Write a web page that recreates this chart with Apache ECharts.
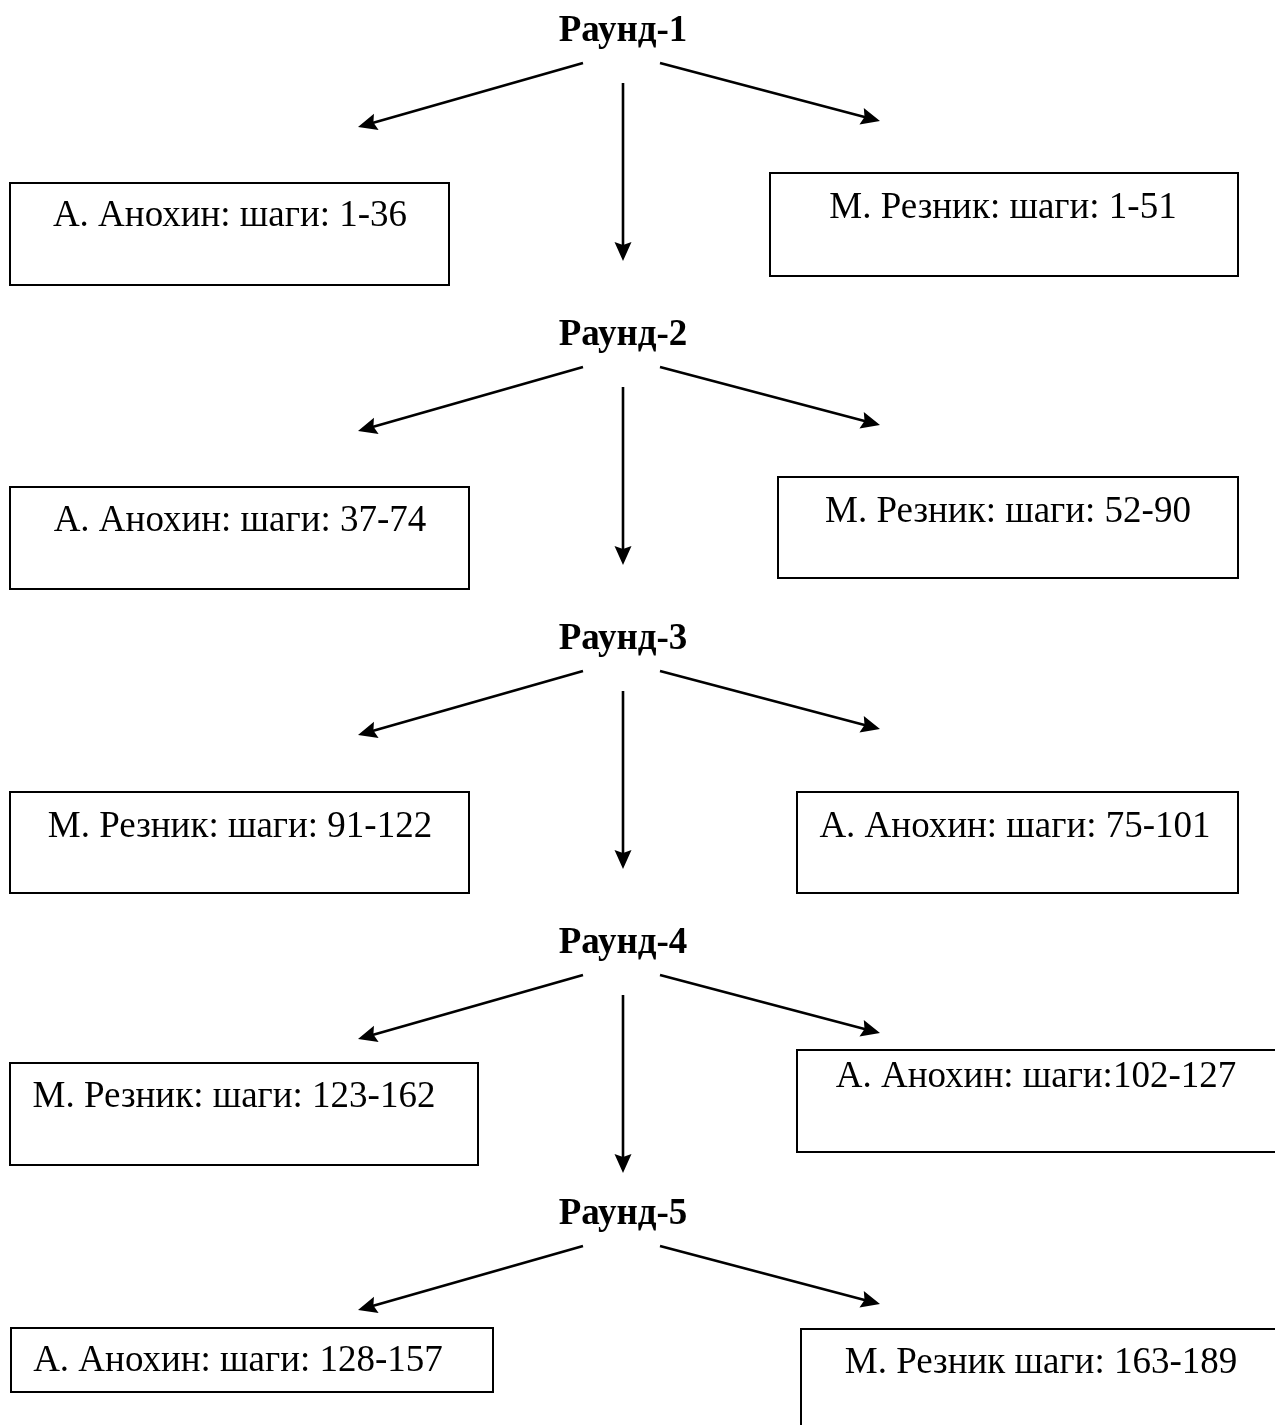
<!DOCTYPE html>
<html>
<head>
<meta charset="utf-8">
<script src="https://cdn.jsdelivr.net/npm/echarts@6/dist/echarts.min.js"></script>
<style>
html,body{margin:0;padding:0;background:#fff;}
#chart{width:1275px;height:1425px;}
</style>
</head>
<body>
<div id="chart"></div>
<script>
// ---- content ----
const rounds = ['Раунд-1', 'Раунд-2', 'Раунд-3', 'Раунд-4', 'Раунд-5'];
const leftLabels = [
  'А. Анохин: шаги: 1-36',
  'А. Анохин: шаги: 37-74',
  'М. Резник: шаги: 91-122',
  'М. Резник: шаги: 123-162',
  'А. Анохин: шаги: 128-157'
];
const rightLabels = [
  'М. Резник: шаги: 1-51',
  'М. Резник: шаги: 52-90',
  'А. Анохин: шаги: 75-101',
  'А. Анохин: шаги:102-127',
  'М. Резник шаги: 163-189'
];
const hasDownArrow = [true, true, true, true, false];

// ---- layout (page pixels) ----
const W = 1275, H = 1425;
const titleY = [31, 335, 639, 943, 1214];
const leftBoxes = [[10,183,449,285],[10,487,469,589],[10,792,469,893],[10,1063,478,1165],[11,1328,493,1392]];
const rightBoxes = [[770,173,1238,276],[778,477,1238,578],[797,792,1238,893],[797,1050,1290,1152],[801,1329,1290,1440]];
const leftText = [[230,216],[240,521],[240,827],[234,1097],[238,1361]];
const rightText = [[1003,208],[1008,512],[1015,827],[1036,1077],[1041,1363]];
const centerX = 623;

// ---- build data ----
const boxData = [];
rounds.forEach((r, i) => {
  boxData.push([...leftBoxes[i], ...leftText[i], leftLabels[i]]);
  boxData.push([...rightBoxes[i], ...rightText[i], rightLabels[i]]);
});
const titleData = rounds.map((r, i) => [centerX, titleY[i], r]);
const arrowData = [];
rounds.forEach((r, i) => {
  const T = titleY[i];
  arrowData.push([583, T + 32, 358, T + 96]);
  arrowData.push([660, T + 32, 880, T + 90]);
  if (hasDownArrow[i]) arrowData.push([centerX, T + 52, centerX, T + 230]);
});

const FONT = '"Liberation Serif", "Times New Roman", serif';

const chart = echarts.init(document.getElementById('chart'), null, {renderer: 'canvas'});
chart.setOption({
  animation: false,
  backgroundColor: '#ffffff',
  grid: {left: 0, right: 0, top: 0, bottom: 0},
  xAxis: {type: 'value', min: 0, max: W, show: false},
  yAxis: {type: 'value', min: 0, max: H, inverse: true, show: false},
  series: [
    {
      type: 'custom',
      coordinateSystem: 'cartesian2d',
      data: boxData,
      clip: false,
      encode: {x: [0, 2], y: [1, 3]},
      renderItem: function (params, api) {
        const p0 = api.coord([api.value(0), api.value(1)]);
        const p1 = api.coord([api.value(2), api.value(3)]);
        const t = api.coord([api.value(4), api.value(5)]);
        return {
          type: 'group',
          children: [
            {type: 'rect', shape: {x: p0[0], y: p0[1], width: p1[0] - p0[0], height: p1[1] - p0[1]},
             style: {fill: '#fff', stroke: '#000', lineWidth: 2}},
            {type: 'text', style: {text: boxData[params.dataIndex][6], x: t[0], y: t[1],
             align: 'center', verticalAlign: 'middle', fill: '#000', fontSize: 37, fontFamily: FONT}}
          ]
        };
      }
    },
    {
      type: 'custom',
      coordinateSystem: 'cartesian2d',
      data: arrowData,
      clip: false,
      encode: {x: [0, 2], y: [1, 3]},
      renderItem: function (params, api) {
        const a = api.coord([api.value(0), api.value(1)]);
        const b = api.coord([api.value(2), api.value(3)]);
        const dx = b[0] - a[0], dy = b[1] - a[1];
        const len = Math.sqrt(dx * dx + dy * dy);
        const ux = dx / len, uy = dy / len;
        const headL = 19, headW = 8.5;
        const bx = b[0] - ux * headL, by = b[1] - uy * headL;
        return {
          type: 'group',
          children: [
            {type: 'line', shape: {x1: a[0], y1: a[1], x2: bx + ux * 4, y2: by + uy * 4},
             style: {stroke: '#000', lineWidth: 2.6}},
            {type: 'polygon', shape: {points: [[b[0], b[1]], [bx - uy * headW, by + ux * headW], [bx + ux * 3, by + uy * 3], [bx + uy * headW, by - ux * headW]]},
             style: {fill: '#000'}}
          ]
        };
      }
    },
    {
      type: 'custom',
      coordinateSystem: 'cartesian2d',
      data: titleData,
      clip: false,
      encode: {x: 0, y: 1},
      renderItem: function (params, api) {
        const p = api.coord([api.value(0), api.value(1)]);
        return {type: 'text', style: {text: titleData[params.dataIndex][2], x: p[0], y: p[1],
          align: 'center', verticalAlign: 'middle', fill: '#000', fontSize: 37, fontWeight: 'bold', fontFamily: FONT}};
      }
    }
  ]
});
</script>
</body>
</html>
